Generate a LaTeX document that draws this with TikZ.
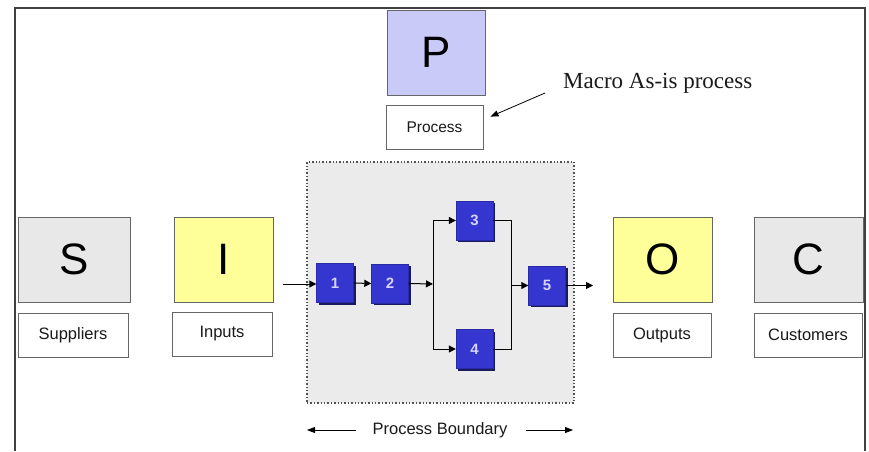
\documentclass[tikz,border=0pt]{standalone}
\usepackage{fontspec}
\setmainfont{Liberation Serif}
\newfontfamily\arial{Liberation Sans}
\usetikzlibrary{arrows.meta,shadows}
\definecolor{frameC}{HTML}{404040}
\definecolor{greyF}{HTML}{E8E8E8}
\definecolor{yellowF}{HTML}{FFFF99}
\definecolor{lavF}{HTML}{CACAF8}
\definecolor{boundF}{HTML}{EBEBEB}
\definecolor{blueF}{HTML}{3535D0}
\definecolor{navyS}{HTML}{1A1A60}
\definecolor{numC}{HTML}{D4D4FF}
\definecolor{edgeC}{HTML}{666666}
\definecolor{txtC}{HTML}{1A1A1A}
\tikzset{
  bigbox/.style={draw=edgeC, line width=0.8pt, minimum height=85pt, inner sep=0pt,
    font=\arial\fontsize{44}{44}\selectfont, text=black},
  lblbox/.style={draw=edgeC, line width=0.8pt, fill=white, minimum height=44pt, inner sep=0pt,
    font=\arial\fontsize{16.5}{18}\selectfont, text=txtC},
  stepbox/.style={fill=blueF, draw=blueF!80!black, line width=0.4pt, minimum width=37pt, minimum height=39pt, inner sep=0pt,
    font=\arial\bfseries\fontsize{15}{15}\selectfont, text=numC,
    drop shadow={shadow xshift=2pt, shadow yshift=-2pt, fill=navyS, opacity=1}},
  arr/.style={-{Triangle[length=7pt,width=7pt]}, line width=1pt, black},
  conn/.style={line width=1pt, black},
  thinarr/.style={-{Triangle[length=8pt,width=6pt]}, line width=0.8pt, black}
}
\begin{document}
\begin{tikzpicture}[x=1pt,y=-1pt]
\useasboundingbox (0,0) rectangle (869,451);
\fill[white] (0,0) rectangle (869,451);
% outer frame
\draw[frameC, line width=1.8pt] (15,451) -- (15,8) -- (865,8) -- (865,451);

% process boundary
\node[draw=edgeC!80!black, line width=1.4pt, dotted, fill=boundF, minimum width=267pt, minimum height=241pt, inner sep=0pt] (bound) at (440.5,282.5) {};

% SIPOC boxes
\node[bigbox, fill=greyF, minimum width=112pt] (S) at (74,259.5) {S};
\node[bigbox, fill=yellowF, minimum width=99pt] (I) at (223.5,259.5) {I};
\node[bigbox, fill=yellowF, minimum width=99pt] (O) at (662.5,259.5) {O};
\node[bigbox, fill=greyF, minimum width=109pt] (C) at (808.5,259.5) {C};
\node[bigbox, fill=lavF, minimum width=98pt] (P) at (436,52.5) {P};

\node[lblbox, minimum width=110pt] (sup) at (73,335) {Suppliers};
\node[lblbox, minimum width=100pt] (inp) at (222,334) {Inputs};
\node[lblbox, minimum width=98pt] (outp) at (662,335) {Outputs};
\node[lblbox, minimum width=108pt] (cust) at (808,335) {Customers};
\node[lblbox, minimum width=97pt, font=\arial\fontsize{15.5}{17}\selectfont] (proc) at (434.5,127) {Process};

% steps
\node[stepbox] (s1) at (335,283) {1};
\node[stepbox] (s2) at (390,283.5) {2};
\node[stepbox] (s3) at (474.5,220.5) {3};
\node[stepbox] (s4) at (474.5,349) {4};
\node[stepbox] (s5) at (547,285.5) {5};

% connectors
\coordinate (inStart) at (283,284);
\coordinate (split) at (433,284);
\coordinate (join) at (511,285.5);
\coordinate (outEnd) at (593,285.5);
\draw[arr] (inStart) -- (s1.west |- inStart);
\draw[arr] (s1.east) -- (s2.west);
\draw[arr] (s2.east) -- (split);
\draw[arr] (split) |- (s3.west);
\draw[arr] (split) |- (s4.west);
\draw[conn] (s3.east) -| (join);
\draw[conn] (s4.east) -| (join);
\draw[arr] (join) -- (s5.west);
\draw[arr] (s5.east) -- (outEnd);

% macro annotation
\node[anchor=base west, inner sep=0pt, font=\fontsize{23}{25}\selectfont, text=txtC] (macro) at (563,88) {Macro As-is process};
\coordinate (mtail) at (545,93);
\draw[thinarr] (mtail) -- ([xshift=7pt,yshift=-12pt]proc.north east);

% process boundary label
\node[inner sep=0pt, font=\arial\fontsize{16.5}{18}\selectfont, text=txtC] (pb) at (440,430) {Process Boundary};
\coordinate (bl) at (307,430);
\coordinate (br) at (573,430);
\draw[thinarr] ([xshift=-16pt]pb.west) -- (bl);
\draw[thinarr] ([xshift=18pt]pb.east) -- (br);
\end{tikzpicture}
\end{document}
